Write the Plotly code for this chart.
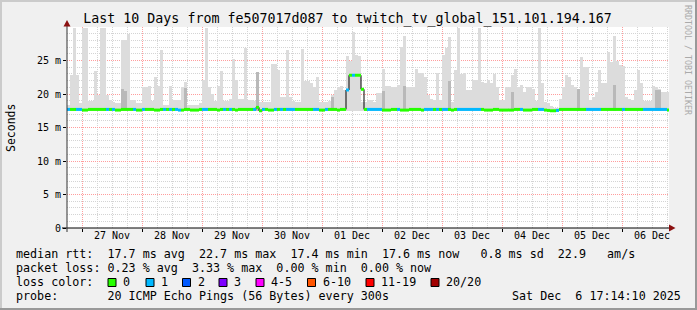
import plotly.graph_objects as go
import pandas as pd

title_text = "Last 10 Days from fe507017d087 to twitch_tv_global_151.101.194.167"

# per-bin (72 min) maximum of the smoke (ms)
smoke_max = [
    18.4, 22.8, 29.9, 22.8, 18.6, 29.9, 29.9, 18.9, 18.9, 23.5, 19.9, 29.9, 29.9, 19.9, 19.1, 18.85, 18.6, 18.6, 28.0, 28.1,
    28.9, 19.1, 19.1, 18.6, 18.6, 21.0, 21.1, 21.2, 19.0, 22.6, 21.2, 26.6, 18.35, 18.35, 21.2, 19.1, 19.1, 19.1, 21.1, 21.8,
    18.35, 18.35, 18.35, 18.4, 18.6, 22.1, 29.9, 21.1, 20.0, 19.0, 21.2, 23.5, 19.0, 19.0, 19.3, 25.2, 22.1, 19.3, 19.3, 26.8,
    19.1, 19.1, 19.0, 23.3, 18.8, 18.8, 18.8, 18.8, 24.5, 24.5, 23.6, 19.6, 19.6, 26.5, 19.6, 19.0, 18.8, 18.8, 26.7, 22.0,
    22.0, 21.6, 21.1, 22.6, 18.8, 18.8, 18.8, 19.0, 19.8, 20.6, 21.1, 21.2, 20.6, 25.7, 25.0, 29.3, 25.8, 25.6, 18.85, 18.85,
    19.1, 19.1, 18.8, 20.1, 20.1, 23.8, 21.2, 21.2, 21.0, 21.0, 21.4, 27.0, 28.7, 21.0, 21.0, 21.1, 23.8, 23.2, 23.2, 22.5,
    19.85, 19.3, 19.1, 23.2, 19.1, 25.8, 26.8, 28.5, 18.8, 23.6, 29.9, 23.0, 23.2, 20.6, 20.6, 22.1, 22.1, 29.9, 21.8, 21.6,
    22.1, 21.6, 23.0, 21.1, 19.1, 19.1, 21.1, 21.0, 22.8, 23.8, 21.0, 21.3, 20.3, 21.1, 21.0, 20.8, 18.9, 29.9, 21.6, 18.85,
    18.6, 18.2, 17.9, 17.9, 19.3, 21.1, 22.8, 22.6, 21.35, 21.1, 19.6, 25.5, 24.1, 24.1, 19.1, 19.6, 20.35, 23.6, 21.7, 21.7,
    26.2, 24.8, 28.6, 25.0, 24.3, 24.2, 19.5, 19.3, 19.1, 20.6, 23.6, 21.6, 19.0, 19.0, 19.0, 21.2, 21.0, 20.8, 20.35, 20.3,
    20.3,
]

# per-bin median rtt (ms)
median = [
    17.7, 17.7, 17.7, 17.7, 17.7, 17.6, 17.6, 17.7, 17.7, 17.7, 17.7, 17.7, 17.7, 17.7, 17.7, 17.7, 17.6, 17.6, 17.7, 17.7,
    17.7, 17.7, 17.7, 17.6, 17.6, 17.7, 17.7, 17.7, 17.7, 17.6, 17.6, 17.7, 17.7, 17.7, 17.7, 17.7, 17.7, 17.6, 17.6, 17.7,
    17.7, 17.6, 17.6, 17.6, 17.7, 17.7, 17.7, 17.7, 17.7, 17.7, 17.6, 17.7, 17.7, 17.7, 17.7, 17.7, 17.6, 17.7, 17.7, 17.7,
    17.7, 17.7, 17.7, 18.0, 17.5, 17.7, 17.7, 17.6, 17.6, 17.7, 17.7, 17.7, 17.7, 17.7, 17.7, 17.7, 17.7, 17.7, 17.7, 17.7,
    17.7, 17.7, 17.7, 17.7, 17.6, 17.6, 17.7, 17.7, 17.7, 17.7, 17.6, 17.7, 17.7, 20.6, 22.8, 22.8, 22.8, 22.8, 20.7, 17.7,
    17.7, 17.7, 17.7, 17.7, 17.7, 17.6, 17.6, 17.6, 17.7, 17.7, 17.7, 17.6, 17.6, 17.6, 17.7, 17.7, 17.7, 17.7, 17.6, 17.7,
    17.7, 17.7, 17.7, 17.7, 17.7, 17.7, 17.7, 17.7, 17.6, 17.7, 17.7, 17.7, 17.7, 17.7, 17.7, 17.7, 17.7, 17.7, 17.7, 17.6,
    17.6, 17.6, 17.7, 17.7, 17.6, 17.6, 17.6, 17.6, 17.6, 17.7, 17.7, 17.7, 17.6, 17.6, 17.6, 17.7, 17.7, 17.7, 17.7, 17.6,
    17.55, 17.5, 17.5, 17.55, 17.7, 17.7, 17.7, 17.7, 17.7, 17.7, 17.7, 17.7, 17.7, 17.7, 17.7, 17.7, 17.7, 17.7, 17.7, 17.7,
    17.7, 17.7, 17.7, 17.7, 17.7, 17.7, 17.7, 17.7, 17.7, 17.7, 17.7, 17.7, 17.7, 17.7, 17.7, 17.7, 17.7, 17.7, 17.7, 17.7,
    17.6,
]

# loss class per bin (index into loss_labels)
loss = [
    1, 0, 0, 1, 1, 0, 0, 0, 0, 0, 0, 0, 0, 1, 0, 1, 0, 0, 0, 0,
    0, 0, 1, 0, 0, 1, 0, 0, 0, 0, 0, 0, 1, 0, 1, 0, 1, 1, 0, 0,
    0, 0, 0, 0, 0, 1, 1, 0, 0, 0, 0, 0, 1, 0, 1, 0, 0, 0, 0, 0,
    0, 0, 1, 0, 0, 1, 0, 0, 0, 1, 0, 1, 0, 1, 1, 1, 0, 0, 0, 0,
    0, 0, 1, 1, 0, 0, 1, 0, 0, 0, 0, 0, 0, 1, 0, 1, 0, 0, 0, 0,
    1, 1, 1, 1, 1, 0, 0, 0, 0, 0, 1, 0, 0, 0, 0, 0, 0, 0, 0, 1,
    1, 1, 0, 1, 0, 1, 1, 0, 0, 0, 1, 1, 1, 1, 1, 1, 1, 1, 0, 0,
    0, 0, 0, 0, 0, 0, 0, 0, 0, 0, 0, 1, 0, 0, 0, 0, 0, 1, 1, 0,
    0, 0, 0, 1, 0, 0, 0, 0, 0, 0, 0, 0, 0, 1, 1, 1, 1, 1, 0, 0,
    0, 0, 0, 0, 0, 1, 0, 0, 0, 0, 0, 0, 1, 1, 1, 1, 1, 1, 1, 1,
    0,
]

# darker smoke parts
dark_idx = [18, 19, 39, 63, 88, 105, 112, 127, 148, 170, 182, 196, 197]
dark_top = [20.8, 20.5, 20.9, 23.3, 19.6, 20.5, 21.2, 22.0, 20.3, 20.8, 21.3, 20.6, 20.6]

smoke_floor = 17.45

y_tickvals = [0, 5, 10, 15, 20, 25]
y_ticktext = ["0", "5 m", "10 m", "15 m", "20 m", "25 m"]

loss_labels = ["0", "1", "2", "3", "4-5", "6-10", "11-19", "20/20"]
loss_colors = ["#26ff00", "#00b8ff", "#0059ff", "#7e00ff", "#ff00ff", "#ff5500", "#ff0000", "#a10000"]

row_median = "median rtt:  17.7 ms avg  22.7 ms max  17.4 ms min  17.6 ms now   0.8 ms sd  22.9   am/s"
row_loss = "packet loss: 0.23 % avg  3.33 % max  0.00 % min  0.00 % now"
row_probe = "probe:" + " " * 7 + "20 ICMP Echo Pings (56 Bytes) every 300s"
row_date = "Sat Dec  6 17:14:10 2025"
loss_row_label = "loss color:"

start = pd.Timestamp("2025-11-26 18:00")
x_end = pd.Timestamp("2025-12-06 18:48")
step = pd.Timedelta(minutes=72)
n = len(smoke_max)
bin_start = [start + step * i for i in range(n)]
bin_center = [t + step / 2 for t in bin_start]

# ---------- geometry helpers (pixel -> paper) ----------
W, H = 697, 310
L, R, T, B = 67, 28, 27, 82
PW, PH = W - L - R, H - T - B


def px(x):
    return (x - L) / PW


def py(y):
    return (T + PH - y) / PH


MONO = "DejaVu Sans Mono"

fig = go.Figure()

# smoke
fig.add_trace(go.Bar(
    x=bin_center, y=[v - smoke_floor for v in smoke_max], base=smoke_floor,
    width=step.total_seconds() * 1000, marker=dict(color="#dcdcdc", line=dict(width=0)),
    hoverinfo="skip",
))
fig.add_trace(go.Bar(
    x=[bin_center[i] for i in dark_idx], y=[v - smoke_floor for v in dark_top], base=smoke_floor,
    width=step.total_seconds() * 1000, marker=dict(color="#b9b9b9", line=dict(width=0)),
    hoverinfo="skip",
))

# black median step line (on the overlaying axis so it is drawn above the smoke)
fig.add_trace(go.Scatter(
    x=bin_start + [bin_start[-1] + step], y=median + [median[-1]], mode="lines", xaxis="x2",
    line=dict(color="#000000", width=1, shape="hv"), hoverinfo="skip",
))

# loss coloured median band
for c in sorted(set(loss)):
    xs, ys = [], []
    for i in range(n):
        if loss[i] == c:
            xs += [bin_start[i], bin_start[i] + step, None]
            ys += [median[i], median[i], None]
    fig.add_trace(go.Scatter(
        x=xs, y=ys, mode="lines", xaxis="x2", line=dict(color=loss_colors[c], width=3),
        hoverinfo="skip", connectgaps=False,
    ))

shapes = []
# border shading
shapes.append(dict(type="rect", xref="paper", yref="paper", x0=px(0), x1=px(W), y0=py(0), y1=py(2),
                   fillcolor="#cbcbcb", line=dict(width=0), layer="above"))
shapes.append(dict(type="rect", xref="paper", yref="paper", x0=px(0), x1=px(2), y0=py(0), y1=py(H),
                   fillcolor="#cbcbcb", line=dict(width=0), layer="above"))
shapes.append(dict(type="rect", xref="paper", yref="paper", x0=px(0), x1=px(W), y0=py(H - 2), y1=py(H),
                   fillcolor="#999999", line=dict(width=0), layer="above"))
shapes.append(dict(type="rect", xref="paper", yref="paper", x0=px(W - 2), x1=px(W), y0=py(0), y1=py(H),
                   fillcolor="#999999", line=dict(width=0), layer="above"))
# axes lines with arrows
shapes.append(dict(type="line", xref="paper", yref="paper", x0=px(62), x1=px(670), y0=py(228), y1=py(228),
                   line=dict(color="#000000", width=1), layer="above"))
shapes.append(dict(type="line", xref="paper", yref="paper", x0=px(67), x1=px(67), y0=py(232), y1=py(24),
                   line=dict(color="#333333", width=1), layer="above"))
shapes.append(dict(type="path", xref="paper", yref="paper",
                   path=f"M {px(63.5)} {py(26.5)} L {px(70.5)} {py(26.5)} L {px(67)} {py(20)} Z",
                   fillcolor="#8b1010", line=dict(width=0), layer="above"))
shapes.append(dict(type="path", xref="paper", yref="paper",
                   path=f"M {px(669)} {py(224.5)} L {px(669)} {py(231.5)} L {px(675.5)} {py(228)} Z",
                   fillcolor="#8b1010", line=dict(width=0), layer="above"))

annotations = []


def text(x, y, s, size=11.7, color="#000000", angle=0, anchor="left"):
    annotations.append(dict(
        x=px(x), y=py(y), xref="paper", yref="paper", text=s.replace(" ", "\u00a0"), showarrow=False,
        xanchor=anchor, yanchor="middle", textangle=angle, borderpad=0, borderwidth=0,
        font=dict(family=MONO, size=size, color=color),
    ))


# y axis title
text(11, 128, "Seconds", size=11.5, angle=-90, anchor="center")
# rrdtool credit
text(688, 60, "RRDTOOL / TOBI OETIKER", size=8.3, color="#aaaaaa", angle=90, anchor="center")

# legend rows
text(16, 254, row_median)
text(16, 268, row_loss)
text(16, 282, loss_row_label)
sq_x = [108, 146, 182.5, 219, 256, 307.5, 366, 431]
for lab, col, x in zip(loss_labels, loss_colors, sq_x):
    shapes.append(dict(type="rect", xref="paper", yref="paper", x0=px(x), x1=px(x + 8), y0=py(286.5), y1=py(278.5),
                       fillcolor=col, line=dict(color="#000000", width=1), layer="above"))
    text(x + 15, 282, lab)
text(16, 296, row_probe)
text(681, 296, row_date, anchor="right")

fig.update_layout(
    width=W, height=H,
    margin=dict(l=L, r=R, t=T, b=B, pad=0),
    paper_bgcolor="#f0f0f0", plot_bgcolor="#ffffff",
    showlegend=False, barmode="overlay", bargap=0, hovermode=False,
    title=dict(text=title_text, x=347.5 / W, xanchor="center", y=1 - 18 / H, yanchor="middle",
               font=dict(family=MONO, size=13.3, color="#000000")),
    xaxis=dict(type="date", range=[start, x_end], tick0="2025-11-27", dtick=86400000,
               showticklabels=False, showgrid=True, gridcolor="#ff9d9d", griddash="1px,1px", gridwidth=1,
               ticks="outside", ticklen=3, tickcolor="#000000", showline=False, zeroline=False, fixedrange=True,
               minor=dict(dtick=21600000, tick0="2025-11-27", showgrid=True, gridcolor="#d4d4d4",
                          griddash="1px,1px", ticks="")),
    xaxis2=dict(type="date", overlaying="x", matches="x", anchor="y", side="bottom",
                tick0="2025-11-27 12:00", dtick=86400000, tickformat="%d %b", showgrid=False, ticks="",
                zeroline=False, showline=False, fixedrange=True,
                tickfont=dict(family=MONO, size=10, color="#000000")),
    yaxis=dict(range=[0, 30], tickvals=y_tickvals, ticktext=y_ticktext, showgrid=True, gridcolor="#ff9d9d",
               griddash="1px,1px", ticks="outside", ticklen=3, tickcolor="#000000", zeroline=False,
               showline=False, fixedrange=True, tickfont=dict(family=MONO, size=10, color="#000000"),
               minor=dict(dtick=1, tick0=0, showgrid=True, gridcolor="#d4d4d4", griddash="1px,1px", ticks="")),
    shapes=shapes, annotations=annotations,
)

fig.write_html("out.html", config={"displayModeBar": False, "staticPlot": True})
